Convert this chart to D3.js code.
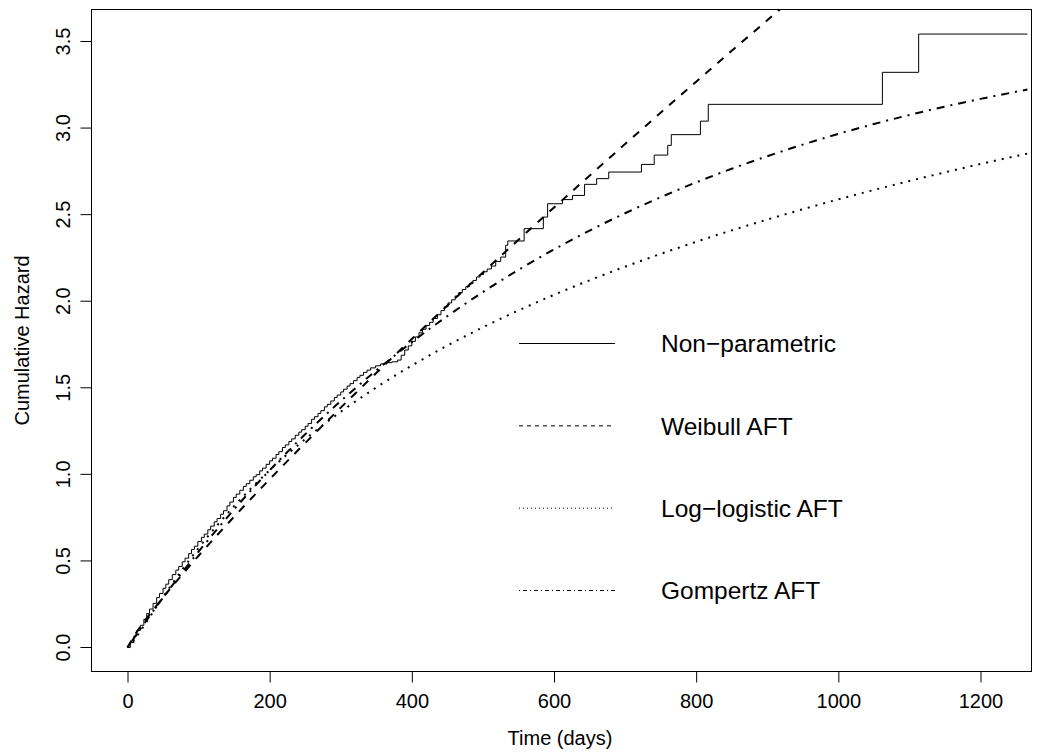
<!DOCTYPE html>
<html><head><meta charset="utf-8">
<script src="https://cdn.jsdelivr.net/npm/d3@7"></script>
<style>
body{margin:0;background:#fff}
svg{display:block}
text{font-family:"Liberation Sans",Arial,Helvetica,sans-serif;fill:#000}
</style>
</head><body>
<svg id="chart" width="1057" height="753"></svg>
<script>
// ---- data ----
const xTicks = [0, 200, 400, 600, 800, 1000, 1200];
const yTicks = [0, 0.5, 1, 1.5, 2, 2.5, 3, 3.5];
const xLabel = "Time (days)";
const yLabel = "Cumulative Hazard";

// Non-parametric (step function) event times and cumulative hazard
const npTime = [0,4,9,13,18,23,27,31,36,41,45,50,54,58,63,68,72,77,81,86,90,94,99,104,108,113,117,122,126,131,135,140,144,149,153,158,
  163,167,172,177,181,186,190,195,200,204,209,213,218,222,227,231,236,241,245,250,254,259,263,268,272,277,281,286,291,295,300,
  304,309,313,318,323,327,332,337,342,349,356,364,372,380,385,390,395,400,405,410,415,420,425,430,436,441,446,451,456,461,466,
  471,476,481,486,491,496,501,506,512,518,525,532,535,558,585,591,612,626,643,660,677,723,741,760,765,806,817,1062,1113,1266];
const npHaz = [0,0.028,0.066,0.098,0.128,0.163,0.196,0.222,0.255,0.288,0.312,0.342,0.366,0.392,0.421,0.447,0.468,0.495,0.516,0.542,0.566,0.585,0.612,0.636,0.655,0.680,0.701,0.726,0.745,0.770,0.790,0.818,0.840,0.867,0.886,0.908,
  0.930,0.946,0.966,0.986,0.998,1.020,1.036,1.058,1.078,1.093,1.115,1.131,1.155,1.170,1.190,1.205,1.226,1.244,1.258,1.278,1.294,1.318,1.333,1.352,1.368,1.390,1.404,1.424,1.444,1.458,1.476,
  1.492,1.510,1.524,1.541,1.560,1.572,1.589,1.602,1.615,1.627,1.638,1.645,1.650,1.660,1.688,1.718,1.742,1.768,1.794,1.818,1.838,1.860,1.878,1.900,1.922,1.946,1.968,1.990,2.008,2.030,2.050,
  2.068,2.084,2.102,2.120,2.140,2.154,2.170,2.186,2.203,2.230,2.255,2.323,2.348,2.419,2.486,2.563,2.587,2.611,2.675,2.708,2.746,2.790,2.844,2.900,2.962,3.040,3.137,3.322,3.543,3.543];

// Fitted model curves, evaluated at these times
const fitTime = [0,10,25,50,75,100,150,200,250,300,350,400,450,500,550,600,650,700,750,800,
  850,900,950,1000,1050,1100,1150,1200,1266];
const weibullHaz = [0,0.0707,0.1575,0.2889,0.4118,0.5298,0.7554,0.9716,1.1811,1.3854,1.5853,1.7818,1.9755,2.1661,2.3545,2.5409,2.7251,2.9076,3.0885,3.2677,
  3.4459,3.6226,3.7981,3.9725];
const loglogHaz = [0,0.0478,0.1372,0.2911,0.4381,0.5745,0.8166,1.0237,1.2032,1.3612,1.5019,1.6286,1.7437,1.8493,1.9465,2.0366,2.1207,2.1994,2.2732,2.3431,
  2.4093,2.4716,2.5312,2.5882,2.6425,2.6944,2.7442,2.7923,2.8525];
const gompertzHaz = [0,0.0594,0.1468,0.2877,0.4231,0.5531,0.7978,1.0234,1.2315,1.4234,1.6003,1.7635,1.9140,2.0529,2.1809,2.2989,2.4078,2.5081,2.6007,2.6862,
  2.7649,2.8375,2.9044,2.9662,3.0231,3.0756,3.1240,3.1687,3.2223];

const legendLabels = ["Non\u2212parametric", "Weibull AFT", "Log\u2212logistic AFT", "Gompertz AFT"];

// ---- layout / styles ----
const box = {left: 91.5, top: 9.5, right: 1031.5, bottom: 671.5};
const plotDash = [null, "8,8", "2,6", "2,6,8,6"];
const plotWidth = [1, 2, 2, 2];
const legendDash = [null, "4,4", "1,3", "1,3,4,3"];
const axisFont = 20;
const legendFont = 24.5;

const svg = d3.select("#chart");
const x = d3.scaleLinear().domain([0, 1200]).range([127.5, 980.5]);
const y = d3.scaleLinear().domain([0, 3.5]).range([647.5, 41.5]);

svg.append("rect").attr("width", 1057).attr("height", 753).attr("fill", "#fff");

svg.append("clipPath").attr("id", "clip").append("rect")
  .attr("x", box.left).attr("y", box.top)
  .attr("width", box.right - box.left).attr("height", box.bottom - box.top);

const g = svg.append("g").attr("clip-path", "url(#clip)");

const series = [
  {t: npTime, h: npHaz, curve: d3.curveStepAfter},
  {t: fitTime.slice(0, weibullHaz.length), h: weibullHaz, curve: d3.curveMonotoneX},
  {t: fitTime, h: loglogHaz, curve: d3.curveMonotoneX},
  {t: fitTime, h: gompertzHaz, curve: d3.curveMonotoneX}
];

series.forEach((s, i) => {
  const pts = s.t.map((t, k) => [t, s.h[k]]);
  const line = d3.line().x(d => x(d[0])).y(d => y(d[1])).curve(s.curve);
  g.append("path").datum(pts)
    .attr("d", line)
    .attr("fill", "none")
    .attr("stroke", "#000")
    .attr("stroke-width", plotWidth[i])
    .attr("stroke-dasharray", plotDash[i])
    .attr("stroke-linecap", "butt")
    .attr("stroke-linejoin", "round");
});

// box
svg.append("rect")
  .attr("x", box.left).attr("y", box.top)
  .attr("width", box.right - box.left).attr("height", box.bottom - box.top)
  .attr("fill", "none").attr("stroke", "#000").attr("stroke-width", 1);

// x axis
const xAxis = d3.axisBottom(x).tickValues(xTicks).tickSize(11).tickPadding(11)
  .tickFormat(d3.format("d"));
const xg = svg.append("g").attr("transform", `translate(0,${box.bottom})`).call(xAxis);
xg.select(".domain").remove();
xg.selectAll("line").attr("stroke", "#000");
xg.selectAll("text").attr("font-size", axisFont).attr("font-family", '"Liberation Sans",Arial,sans-serif').attr("fill", "#000");

// y axis
const yAxis = d3.axisLeft(y).tickValues(yTicks).tickSize(11).tickPadding(10)
  .tickFormat(d3.format(".1f"));
const yg = svg.append("g").attr("transform", `translate(${box.left},0)`).call(yAxis);
yg.select(".domain").remove();
yg.selectAll("line").attr("stroke", "#000");
yg.selectAll("text")
  .attr("font-size", axisFont).attr("font-family", '"Liberation Sans",Arial,sans-serif').attr("fill", "#000")
  .attr("x", null).attr("dy", null)
  .attr("text-anchor", "middle")
  .attr("transform", d => `translate(-22,${y(d)}) rotate(-90)`)
  .attr("y", 0);
yg.selectAll(".tick").attr("transform", null);
yg.selectAll(".tick line").attr("transform", d => `translate(0,${y(d)})`);

// axis titles
svg.append("text").attr("x", (x(0) + x(1200)) / 2 + 6).attr("y", 745)
  .attr("text-anchor", "middle").attr("font-size", axisFont).text(xLabel);
svg.append("text")
  .attr("transform", `translate(29,${(box.top + box.bottom) / 2}) rotate(-90)`)
  .attr("text-anchor", "middle").attr("font-size", axisFont).text(yLabel);

// legend
const legY = d3.scalePoint().domain(legendLabels).range([343.5, 590.5]);
const leg = svg.append("g");
legendLabels.forEach((lab, i) => {
  leg.append("line")
    .attr("x1", 519).attr("x2", 615)
    .attr("y1", legY(lab)).attr("y2", legY(lab))
    .attr("stroke", "#000").attr("stroke-width", 1)
    .attr("stroke-dasharray", legendDash[i]);
  leg.append("text").attr("x", 661).attr("y", legY(lab) + 8.8)
    .attr("font-size", legendFont).text(lab);
});
</script>
</body></html>
